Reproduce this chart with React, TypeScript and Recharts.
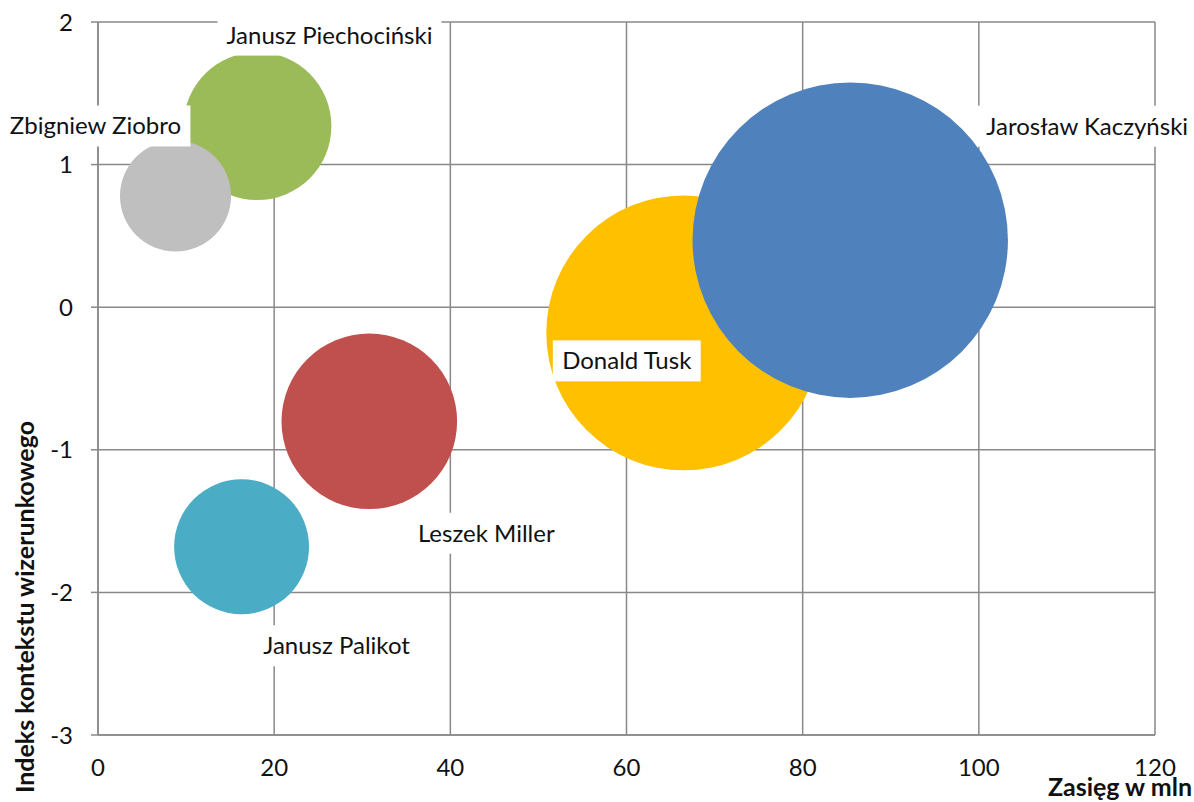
import React from 'react';
import { ScatterChart, Scatter, XAxis, YAxis, ZAxis, CartesianGrid } from 'recharts';

// drawing order: Tusk under Kaczyński, Piechociński under Ziobro
const politicians = ['Donald Tusk', 'Jarosław Kaczyński', 'Leszek Miller', 'Janusz Palikot', 'Janusz Piechociński', 'Zbigniew Ziobro'];
const reach = [66.5, 85.4, 30.8, 16.3, 18.1, 8.8];
const imageIndex = [-0.18, 0.47, -0.8, -1.68, 1.27, 0.78];
const bubbleSize = [76, 100, 31, 18.3, 22, 12.4];

const xTicks = [0, 20, 40, 60, 80, 100, 120];
const yTicks = [-3, -2, -1, 0, 1, 2];

const colors = ['#FFC000', '#4F81BD', '#C0504D', '#4BACC6', '#9BBB59', '#BFBFBF'];
// where each name sits relative to its bubble centre (px)
const labelOffsets = [[-57, 28], [237, -114], [117, 112], [95, 99], [72, -91], [-80, -70]];

const FONT = 'Lato, sans-serif';
const GRID = '#898989';
const MAX_RADIUS = 157.7;

const data = politicians.map((name, i) => ({
  name,
  x: reach[i],
  y: imageIndex[i],
  z: bubbleSize[i],
  color: colors[i],
}));

let measureCtx: CanvasRenderingContext2D | null = null;
const textWidth = (s: string) => {
  if (!measureCtx) measureCtx = document.createElement('canvas').getContext('2d');
  if (!measureCtx) return s.length * 12;
  measureCtx.font = `24px ${FONT}`;
  return measureCtx.measureText(s).width;
};

const BubbleShape = (props: any) => {
  const { cx, cy, size, width, payload } = props;
  const r = size != null ? Math.sqrt(size / Math.PI) : width / 2;
  return <circle cx={cx} cy={cy} r={r} fill={payload.color} />;
};

const NameLabel = (props: any) => {
  const { cx, cy, payload } = props;
  const i = politicians.indexOf(payload.name);
  const [dx, dy] = labelOffsets[i];
  const w = textWidth(payload.name) + 18;
  const x = cx + dx;
  const y = cy + dy;
  return (
    <g>
      <rect x={x - w / 2} y={y - 20.5} width={w} height={41} fill="#fff" />
      <text x={x} y={y + 8.5} textAnchor="middle" fontSize={24} fontFamily={FONT} fill="#111">
        {payload.name}
      </text>
    </g>
  );
};

const YTitle = () => (
  <text
    x={34}
    y={607}
    transform="rotate(-90 34 607)"
    textAnchor="middle"
    fontSize={25}
    fontWeight={700}
    fontFamily={FONT}
    fill="#111"
  >
    Indeks kontekstu wizerunkowego
  </text>
);

const XTitle = () => (
  <text x={1192} y={796} textAnchor="end" fontSize={25} fontWeight={700} fontFamily={FONT} fill="#111">
    Zasięg w mln
  </text>
);

export default function App() {
  return (
    <div style={{ position: 'absolute', left: 0, top: 0, background: '#fff' }}>
      <ScatterChart width={1194} height={802} margin={{ top: 22, right: 39, bottom: 0, left: 0 }}>
        <CartesianGrid stroke={GRID} strokeWidth={1.5} />
        <XAxis
          type="number"
          dataKey="x"
          domain={[0, 120]}
          ticks={xTicks}
          height={67}
          axisLine={{ stroke: GRID, strokeWidth: 1.5 }}
          tickLine={false}
          tickSize={0}
          tickMargin={24}
          tick={{ fill: '#111', fontSize: 24, fontFamily: FONT }}
          label={<XTitle />}
        />
        <YAxis
          type="number"
          dataKey="y"
          domain={[-3, 2]}
          ticks={yTicks}
          width={98}
          axisLine={{ stroke: GRID, strokeWidth: 1.5 }}
          tickLine={{ stroke: GRID, strokeWidth: 1.5 }}
          tickSize={7}
          tickMargin={18}
          tick={{ fill: '#111', fontSize: 24, fontFamily: FONT }}
          label={<YTitle />}
        />
        <ZAxis type="number" dataKey="z" domain={[0, 100]} range={[0, Math.PI * MAX_RADIUS * MAX_RADIUS]} />
        <Scatter data={data} shape={<BubbleShape />} isAnimationActive={false} />
        <Scatter data={data} shape={<NameLabel />} isAnimationActive={false} />
      </ScatterChart>
    </div>
  );
}
